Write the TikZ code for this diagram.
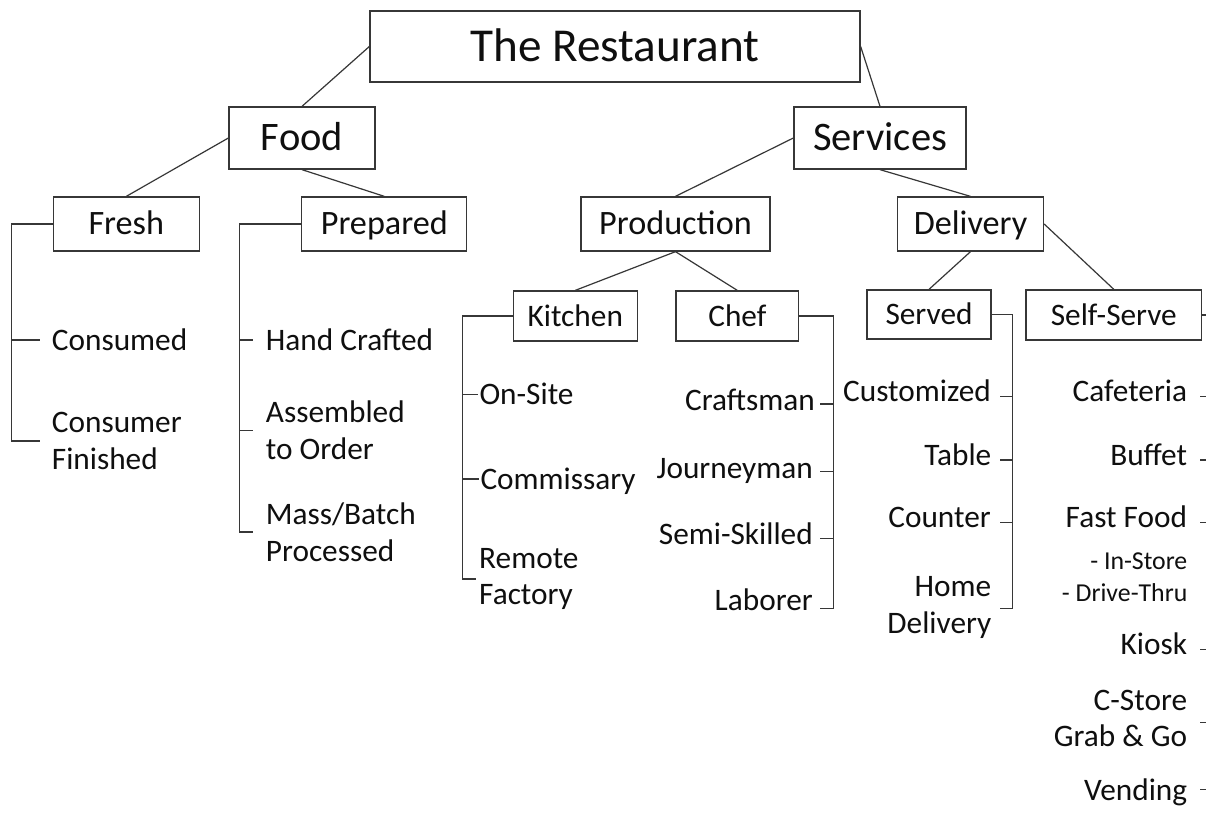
\documentclass[tikz,border=0pt]{standalone}
\usepackage{fontspec}
\setmainfont{Carlito}
\definecolor{linec}{RGB}{55,55,55}
\definecolor{txtc}{RGB}{15,15,15}
\begin{document}
\begin{tikzpicture}[x=1pt,y=-1pt,
  box/.style={draw=linec, line width=1.3pt, inner sep=0pt, text=txtc, text depth=0pt},
  fA/.style={font=\fontsize{47.2}{56}\selectfont, text height=30.2pt},
  fB/.style={font=\fontsize{40.5}{48}\selectfont, text height=25.9pt},
  fC/.style={font=\fontsize{34.2}{40}\selectfont, text height=21.9pt},
  fD/.style={font=\fontsize{31.3}{36}\selectfont, text height=20pt},
  ln/.style={draw=linec, line width=1.2pt},
  leaf/.style={inner sep=0pt, text=txtc, font=\fontsize{31.3}{36.6}\selectfont, text height=20pt, text depth=0pt},
  leafm/.style={inner sep=0pt, text=txtc, font=\fontsize{31.3}{36.6}\selectfont},
  small/.style={inner sep=0pt, text=txtc, font=\fontsize{25.8}{31.6}\selectfont}]
\useasboundingbox[fill=white] (0,0) rectangle (1206,836);

% boxes
\node[box,fA,minimum width=490pt,minimum height=71pt] (rest) at (615,46.5) {The Restaurant};
\node[box,fB,minimum width=146pt,minimum height=62pt] (food) at (302,138) {Food};
\node[box,fB,minimum width=172pt,minimum height=62pt] (serv) at (880,138) {Services};
\node[box,fC,minimum width=146pt,minimum height=54pt] (fresh) at (126.3,224) {Fresh};
\node[box,fC,minimum width=165pt,minimum height=54pt] (prep) at (384.3,224) {Prepared};
\node[box,fC,minimum width=189pt,minimum height=54pt] (prod) at (675.5,224) {Production};
\node[box,fC,minimum width=146pt,minimum height=54pt] (deliv) at (970.5,224) {Delivery};
\node[box,fD,minimum width=124pt,minimum height=50pt] (kitch) at (575.3,316) {Kitchen};
\node[box,fD,minimum width=122.7pt,minimum height=50pt] (chef) at (737.3,316) {Chef};
\node[box,fD,minimum width=124pt,minimum height=49pt] (served) at (929,314.5) {Served};
\node[box,fD,minimum width=175.7pt,minimum height=50pt] (selfs) at (1113.8,315) {Self-Serve};

% tree connectors
\draw[ln] (rest.west) -- (food.north);
\draw[ln] (rest.east) -- (serv.north);
\draw[ln] (food.west) -- (fresh.north);
\draw[ln] (food.south) -- (prep.north);
\draw[ln] (serv.west) -- (prod.north);
\draw[ln] (serv.south) -- (deliv.north);
\draw[ln] (prod.south) -- (kitch.north);
\draw[ln] (prod.south) -- (chef.north);
\draw[ln] (deliv.south) -- (served.north);
\draw[ln] (deliv.east) -- (selfs.north);

% leaves, left aligned
\node[leaf,anchor=west] (cons) at (51.7,340) {Consumed};
\node[leafm,anchor=west,align=left] (fin) at (51.7,441) {Consumer\\Finished};
\node[leaf,anchor=west] (hand) at (265.7,340) {Hand Crafted};
\node[leafm,anchor=west,align=left] (asm) at (265.7,430.5) {Assembled\\to Order};
\node[leafm,anchor=west,align=left] (mass) at (265.7,532) {Mass/Batch\\Processed};
\node[leaf,anchor=west] (onsite) at (479.3,394.3) {On-Site};
\node[leaf,anchor=west] (comm) at (480.3,479) {Commissary};
\node[leafm,anchor=west,align=left] (remote) at (479,579) {Remote\\Factory};

% leaves, right aligned
\node[leaf,anchor=east] (craft) at (815,400) {Craftsman};
\node[leaf,anchor=east] (journ) at (813,468.3) {Journeyman};
\node[leaf,anchor=east] (semi) at (813,534) {Semi-Skilled};
\node[leaf,anchor=east] (labor) at (813,600.7) {Laborer};
\node[leaf,anchor=east] (cust) at (991,391.7) {Customized};
\node[leaf,anchor=east] (table) at (991.5,455) {Table};
\node[leaf,anchor=east] (counter) at (991,517.7) {Counter};
\node[leafm,anchor=east,align=right] (home) at (991.5,607.7) {Home\\Delivery};
\node[leaf,anchor=east] (cafe) at (1187.3,391.7) {Cafeteria};
\node[leaf,anchor=east] (buffet) at (1187.3,455) {Buffet};
\node[leaf,anchor=east] (fast) at (1187.3,517.7) {Fast Food};
\node[small,anchor=east,align=right] (instore) at (1187.5,577.5) {- In-Store\\- Drive-Thru};
\node[leaf,anchor=east] (kiosk) at (1187.3,644.3) {Kiosk};
\node[leafm,anchor=east,align=right] (cstore) at (1187.3,718.3) {C-Store\\Grab \& Go};
\node[leaf,anchor=east] (vend) at (1187.3,790) {Vending};

% bracket x positions
\coordinate (bxA) at (11.7,0);
\coordinate (bxB) at (239.3,0);
\coordinate (bxC) at (462.3,0);
\coordinate (bxD) at (833.3,0);
\coordinate (tkD) at (820,0);
\coordinate (bxE) at (1012.7,0);
\coordinate (tkE) at (1000,0);
\coordinate (bxF) at (1206,0);
\coordinate (tkF) at (1200,0);

% Fresh bracket
\draw[ln] (fresh.west) -- (fresh.west -| bxA) |- ([xshift=-12pt]fin.west);
\draw[ln] (cons.west -| bxA) -- ([xshift=-12pt]cons.west);
% Prepared bracket
\draw[ln] (prep.west) -- (prep.west -| bxB) |- ([xshift=-13pt]mass.west);
\draw[ln] (hand.west -| bxB) -- ([xshift=-13pt]hand.west);
\draw[ln] (asm.west -| bxB) -- ([xshift=-13pt]asm.west);
% Kitchen bracket
\draw[ln] (kitch.west) -- (kitch.west -| bxC) |- ([xshift=-3pt]remote.west);
\draw[ln] (onsite.west -| bxC) -- ([xshift=-1pt]onsite.west);
\draw[ln] (comm.west -| bxC) -- ([xshift=-1pt]comm.west);
% Chef bracket
\draw[ln] (chef.east) -- (chef.east -| bxD) |- ([yshift=-7.6pt]labor.east -| tkD);
\draw[ln] ([yshift=-4pt]craft.east -| tkD) -- ([yshift=-4pt]craft.east -| bxD);
\draw[ln] ([yshift=-3.4pt]journ.east -| tkD) -- ([yshift=-3.4pt]journ.east -| bxD);
\draw[ln] ([yshift=-4.3pt]semi.east -| tkD) -- ([yshift=-4.3pt]semi.east -| bxD);
% Served bracket
\draw[ln] (served.east) -- (served.east -| bxE) |- ([yshift=-0.6pt]home.east -| tkE);
\draw[ln] ([yshift=-5pt]cust.east -| tkE) -- ([yshift=-5pt]cust.east -| bxE);
\draw[ln] ([yshift=-5pt]table.east -| tkE) -- ([yshift=-5pt]table.east -| bxE);
\draw[ln] ([yshift=-4.6pt]counter.east -| tkE) -- ([yshift=-4.6pt]counter.east -| bxE);
% Self-Serve bracket
\draw[ln] (selfs.east) -- (selfs.east -| bxF);
\draw[ln] ([yshift=-5pt]cafe.east -| tkF) -- ([yshift=-5pt]cafe.east -| bxF);
\draw[ln] ([yshift=-5pt]buffet.east -| tkF) -- ([yshift=-5pt]buffet.east -| bxF);
\draw[ln] ([yshift=-5pt]fast.east -| tkF) -- ([yshift=-5pt]fast.east -| bxF);
\draw[ln] ([yshift=-5pt]kiosk.east -| tkF) -- ([yshift=-5pt]kiosk.east -| bxF);
\draw[ln] ([yshift=-4.4pt]cstore.east -| tkF) -- ([yshift=-4.4pt]cstore.east -| bxF);
\draw[ln] ([yshift=0.7pt]vend.east -| tkF) -- ([yshift=0.7pt]vend.east -| bxF);
\end{tikzpicture}
\end{document}
